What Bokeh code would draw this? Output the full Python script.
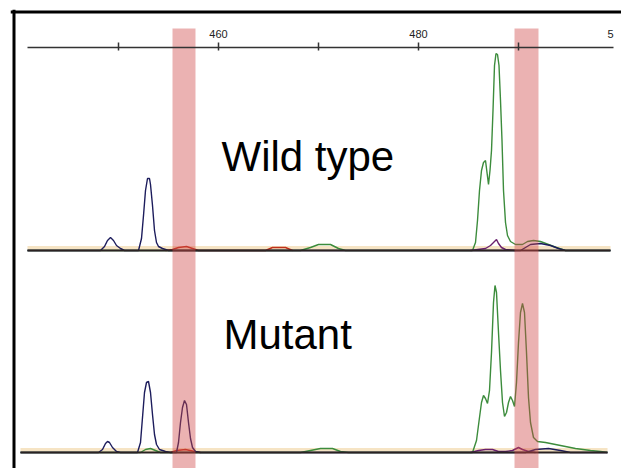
from bokeh.plotting import figure
from bokeh.models import LinearAxis, FixedTicker, Range1d
from bokeh.embed import file_html
from bokeh.resources import INLINE
from bokeh.core.properties import value

# ---------------- data (fragment size in bp, signal intensity) ----------------
tick_values = [450, 460, 470, 480, 490]
tick_labels = ["", "460", "", "480", ""]
ruler_bounds = (440.9, 499.5)
edge_label = "5"          # clipped "500" label at the right end of the ruler

band_left = [455.4, 489.6]
band_right = [457.7, 492.0]

panel_names = ["Wild type", "Mutant"]

# Wild type traces
wt_blue_bp = [440.9, 448.2, 448.6, 448.9, 449.2, 449.5, 449.8, 450.2, 450.6, 452.0, 452.3, 452.5, 452.7,
              452.9, 453.1, 453.2, 453.4, 453.6, 453.8, 454.0, 454.4, 455.0, 490.2, 490.7, 491.2, 492.2,
              493.2, 494.0, 494.7, 499.2]
wt_blue_int = [0, 0, 4, 10, 13, 10, 5, 2, 0, 0, 12, 35, 60, 72, 72, 66, 45, 20, 8, 4, 2, 0, 0, 3, 6, 7,
               5, 2, 0, 0]

wt_green_bp = [440.9, 468.2, 469.2, 470.0, 471.2, 472.0, 472.7, 485.4, 485.7, 485.9, 486.1, 486.3, 486.5,
               486.7, 486.85, 487.0, 487.15, 487.3, 487.45, 487.6, 487.75, 487.9, 488.05, 488.2, 488.35,
               488.5, 488.7, 488.9, 489.2, 489.7, 490.4, 490.9, 491.5, 492.2, 493.0, 493.8, 494.7, 499.2]
wt_green_int = [0, 0, 3, 6, 6, 2, 0, 0, 8, 30, 60, 80, 88, 90, 78, 66, 80, 100, 140, 185, 197, 196, 185,
                150, 110, 60, 28, 15, 9, 6, 6, 9, 10, 9, 6, 3, 0, 0]

wt_purple_bp = [485.2, 486.7, 487.2, 487.6, 487.8, 488.0, 488.3, 488.7, 489.7]
wt_purple_int = [0, 2, 5, 9, 11, 7, 3, 1, 0]

wt_red_bp = [454.7, 455.4, 456.0, 456.8, 457.4, 458.0, 464.7, 465.4, 466.7, 467.4]
wt_red_int = [0, 1, 3, 4, 2, 0, 0, 3, 3, 0]

# Mutant traces
mut_blue_bp = [440.2, 448.0, 448.4, 448.7, 448.9, 449.1, 449.4, 449.8, 450.2, 451.9, 452.2, 452.4, 452.6,
               452.8, 453.0, 453.2, 453.4, 453.6, 453.8, 454.1, 454.7, 455.2, 455.8, 456.0, 456.2, 456.4,
               456.6, 456.8, 457.0, 457.2, 457.4, 457.7, 458.2, 490.7, 491.7, 493.0, 494.2, 495.2, 498.9]
mut_blue_int = [0, 0, 3, 9, 11, 10, 5, 1, 0, 0, 10, 35, 60, 70, 71, 60, 38, 18, 8, 3, 1, 0, 0, 10, 30, 45,
                52, 48, 30, 14, 5, 1, 0, 0, 3, 4, 2, 0, 0]

mut_green_bp = [440.2, 452.2, 452.7, 453.2, 453.7, 454.2, 468.2, 469.2, 470.2, 471.4, 472.2, 473.0, 485.4,
                485.8, 486.1, 486.3, 486.5, 486.7, 486.9, 487.1, 487.3, 487.5, 487.65, 487.8, 488.0, 488.2,
                488.4, 488.6, 488.8, 489.0, 489.2, 489.4, 489.6, 489.8, 490.0, 490.2, 490.4, 490.6, 490.8,
                491.0, 491.2, 491.5, 491.9, 492.7, 493.7, 494.7, 495.7, 497.2, 498.2, 498.9]
mut_green_int = [0, 0, 3, 4, 2, 0, 0, 2, 4, 4, 1, 0, 0, 12, 35, 50, 57, 54, 49, 62, 100, 150, 167, 160,
                 120, 82, 50, 36, 40, 50, 56, 52, 46, 70, 110, 140, 149, 140, 100, 55, 30, 15, 11, 10, 8,
                 6, 4, 2, 1, 0]

mut_purple_bp = [485.2, 486.0, 486.7, 487.4, 488.0, 488.7, 489.4, 490.0, 490.4, 491.0, 491.7]
mut_purple_int = [0, 2, 3, 3, 1, 1, 2, 5, 3, 1, 0]

mut_red_bp = [455.2, 455.8, 456.7, 457.6, 458.2]
mut_red_int = [0, 2, 3, 1, 0]

wt_baseline = (440.9, 499.2)
mut_baseline = (440.2, 498.9)

# ---------------- layout / styling ----------------
WT_OFF = 218
MUT_OFF = 16
BLUE = "#1c1c5c"
GREEN = "#3c8c3c"
PURPLE = "#6a206e"
RED = "#c0301c"

X0, X1 = 439.2, 500.3
Y0, Y1 = 0, 459

p = figure(width=621, height=468, output_backend="svg", toolbar_location=None,
           x_range=Range1d(X0, X1), y_range=Range1d(Y0, Y1),
           x_axis_location=None, y_axis_location=None,
           min_border_left=10, min_border_right=0, min_border_top=9, min_border_bottom=0)
p.grid.visible = False
p.outline_line_color = None
p.background_fill_color = "white"
p.border_fill_color = "white"

for off, (b0, b1) in [(WT_OFF, wt_baseline), (MUT_OFF, mut_baseline)]:
    p.line([b0, b1], [off + 2.5, off + 2.5], line_color="#f6e4c4", line_width=4)

def trace(xs, ys, off, color, w=1.4):
    p.line(xs, [v + off for v in ys], line_color=color, line_width=w)

trace(wt_green_bp, wt_green_int, WT_OFF, GREEN)
trace(wt_red_bp, wt_red_int, WT_OFF, RED)
trace(wt_purple_bp, wt_purple_int, WT_OFF, PURPLE)
trace(wt_blue_bp, wt_blue_int, WT_OFF, BLUE)
trace(mut_green_bp, mut_green_int, MUT_OFF, GREEN)
trace(mut_red_bp, mut_red_int, MUT_OFF, RED)
trace(mut_purple_bp, mut_purple_int, MUT_OFF, PURPLE)
trace(mut_blue_bp, mut_blue_int, MUT_OFF, BLUE)

for off, (b0, b1) in [(WT_OFF, wt_baseline), (MUT_OFF, mut_baseline)]:
    p.line([b0, b1], [off, off], line_color="#2a2222", line_width=2)

p.quad(left=band_left, right=band_right, bottom=Y0, top=440,
       fill_color="#d04848", fill_alpha=0.42, line_color=None)

p.text(x=[460.3, 460.5], y=[312, 134], text=panel_names,
       text_font=value("Liberation Sans"), text_font_size="42px",
       text_baseline="alphabetic", text_align="left", text_color="black")

ruler = LinearAxis(fixed_location=421, ticker=FixedTicker(ticks=tick_values), bounds=ruler_bounds,
                   major_label_overrides={t: l for t, l in zip(tick_values, tick_labels)},
                   axis_line_color="#333333", axis_line_width=1.5,
                   major_tick_line_color="#333333", major_tick_line_width=1.5,
                   major_tick_in=3, major_tick_out=5, minor_tick_line_color=None,
                   major_label_standoff=5, major_label_text_font_size="11px",
                   major_label_text_font="Liberation Sans", major_label_text_color="#222222")
p.add_layout(ruler, "above")

p.text(x=[ruler_bounds[1]], y=[431], text=[edge_label], text_align="right", text_baseline="bottom",
       text_font=value("Liberation Sans"), text_font_size="11px", text_color="#222222")

# black frame of the screenshot (left and top edges)
p.segment(x0=[X0 + 0.35, X0], y0=[Y0, Y1 - 2.5], x1=[X0 + 0.35, X1], y1=[Y1, Y1 - 2.5],
          line_color="black", line_width=3)

open("out.html", "w").write(file_html(p, INLINE))
